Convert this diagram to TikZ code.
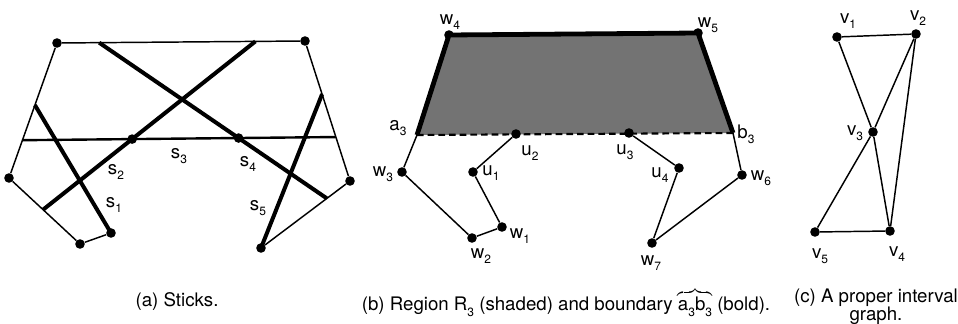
\documentclass[tikz,border=0pt]{standalone}
\usepackage{fontspec}
\setmainfont{TeX Gyre Heros}
\usepackage{tikz}
\usetikzlibrary{positioning, calc}
\newcommand{\lsub}[1]{\raisebox{-0.55ex}{\small #1}}
\tikzstyle{edge} = [line width=1.1pt]

\begin{document}
\fontsize{14}{16}\selectfont
\begin{tikzpicture}[
    x=0.75pt, y=-0.75pt,
    dot/.style={circle, fill, inner sep=0pt, minimum size=7.2pt},
    cross/.style={circle, fill, inner sep=0pt, minimum size=4pt},
    stick/.style={line width=3pt},
    midstick/.style={line width=1.8pt},
    lab/.style={inner sep=1pt},
    boundary/.style={line width=3.6pt, line join=round},
    shaded/.style={fill=black!55}
]
    \useasboundingbox (0,0) rectangle (958,324);

    % (a) sticks
    \node[dot] (p1) at (57,43) {};
    \node[dot] (p2) at (305,41) {};
    \node[dot] (p3) at (9,178) {};
    \node[dot] (p4) at (350,181) {};
    \node[dot] (p5) at (80,244) {};
    \node[dot] (p6) at (111,233) {};
    \node[dot] (p7) at (261,248) {};
    \draw[edge] (p1) -- (p2);
    \draw[edge] (p1) -- (p3);
    \draw[edge] (p3) -- (p5);
    \draw[edge] (p5) -- (p6);
    \draw[edge] (p2) -- (p4);
    \draw[edge] (p4) -- (p7);

    \coordinate (s1a) at ($(p1.center)!0.46!(p3.center)$);
    \coordinate (s2a) at ($(p3.center)!0.48!(p5.center)$);
    \coordinate (s2b) at ($(p1.center)!0.80!(p2.center)$);
    \coordinate (s3a) at ($(p1.center)!0.72!(p3.center)$);
    \coordinate (s3b) at ($(p2.center)!0.686!(p4.center)$);
    \coordinate (s4a) at ($(p1.center)!0.17!(p2.center)$);
    \coordinate (s4b) at ($(p4.center)!0.26!(p7.center)$);
    \coordinate (s5a) at ($(p2.center)!0.38!(p4.center)$);

    \draw[stick] (s1a) -- (p6.center);
    \draw[stick] (s2a) -- (s2b);
    \draw[midstick] (s3a) -- (s3b);
    \draw[stick] (s4a) -- (s4b);
    \draw[stick] (s5a) -- (p7.center);

    \node[cross] (x12) at (intersection of s1a--p6 and s2a--s2b) {};
    \node[dot] (x23) at (intersection of s2a--s2b and s3a--s3b) {};
    \node[dot] (x34) at (intersection of s3a--s3b and s4a--s4b) {};
    \node[cross] (x45) at (intersection of s4a--s4b and s5a--p7) {};

    \node[lab] (ls1) at (114,205) {s\lsub{1}};
    \node[lab] (ls2) at (116,172) {s\lsub{2}};
    \node[lab] (ls3) at (179,156) {s\lsub{3}};
    \node[lab] (ls4) at (248,164) {s\lsub{4}};
    \node[lab] (ls5) at (258,208) {s\lsub{5}};
    \node (capa) at (177,302) {(a) Sticks.};

    % (b) region R3
    \coordinate (a3) at (417,135);
    \coordinate (b3) at (733,133);
    \node[dot] (w4) at (449,35) {};
    \node[dot] (w5) at (698,33) {};
    \fill[shaded] (a3) -- (w4.center) -- (w5.center) -- (b3) -- cycle;
    \draw[boundary] (a3) -- (w4.center) -- (w5.center) -- (b3);
    \draw[line width=1.6pt, dashed, dash pattern=on 5pt off 3pt] (a3) -- (b3);

    \node[dot] (u2) at (516,134) {};
    \node[dot] (u3) at (629,133) {};
    \node[dot] (u1) at (473,172) {};
    \node[dot] (u4) at (679,168) {};
    \node[dot] (w1) at (502,227) {};
    \node[dot] (w2) at (472,238) {};
    \node[dot] (w3) at (402,172) {};
    \node[dot] (w6) at (742,175) {};
    \node[dot] (w7) at (652,243) {};
    \draw[edge] (a3) -- (w3);
    \draw[edge] (w3) -- (w2);
    \draw[edge] (w2) -- (w1);
    \draw[edge] (w1) -- (u1);
    \draw[edge] (u1) -- (u2);
    \draw[edge] (u3) -- (u4);
    \draw[edge] (u4) -- (w7);
    \draw[edge] (w7) -- (w6);
    \draw[edge] (w6) -- (b3);

    \node[lab] (lw4) at (450,22) {w\lsub{4}};
    \node[lab] (lw5) at (708,25) {w\lsub{5}};
    \node[lab] (la3) at (398,128) {a\lsub{3}};
    \node[lab] (lb3) at (746,134) {b\lsub{3}};
    \node[lab] (lu2) at (530,153) {u\lsub{2}};
    \node[lab] (lu3) at (625,152) {u\lsub{3}};
    \node[lab] (lw3) at (383,174) {w\lsub{3}};
    \node[lab] (lu1) at (491,173) {u\lsub{1}};
    \node[lab] (lu4) at (660,175) {u\lsub{4}};
    \node[lab] (lw6) at (761,178) {w\lsub{6}};
    \node[lab] (lw1) at (520,236) {w\lsub{1}};
    \node[lab] (lw2) at (481,256) {w\lsub{2}};
    \node[lab] (lw7) at (651,263) {w\lsub{7}};
    \node (capb) at (566,302) {(b) Region R\lsub{3} (shaded) and boundary $\overbrace{\hbox{a\lsub{3}b\lsub{3}}}$ (bold).};

    % (c) proper interval graph
    \node[dot] (v1) at (837,37) {};
    \node[dot] (v2) at (916,34) {};
    \node[dot] (v3) at (873,132) {};
    \node[dot] (v4) at (890,231) {};
    \node[dot] (v5) at (815,232) {};
    \draw[edge] (v1) -- (v2);
    \draw[edge] (v1) -- (v3);
    \draw[edge] (v2) -- (v3);
    \draw[edge] (v2) -- (v4);
    \draw[edge] (v3) -- (v4);
    \draw[edge] (v3) -- (v5);
    \draw[edge] (v5) -- (v4);

    \node[lab] (lv1) at (848,21) {v\lsub{1}};
    \node[lab] (lv2) at (918,18) {v\lsub{2}};
    \node[lab] (lv3) at (855,133) {v\lsub{3}};
    \node[lab] (lv5) at (820,256) {v\lsub{5}};
    \node[lab] (lv4) at (897,254) {v\lsub{4}};
    \node[inner sep=0pt] (capc) at (876,298) {(c) A proper interval};
    \node[inner sep=0pt, below=0pt of capc] (capc2) {graph.};
\end{tikzpicture}
\end{document}
